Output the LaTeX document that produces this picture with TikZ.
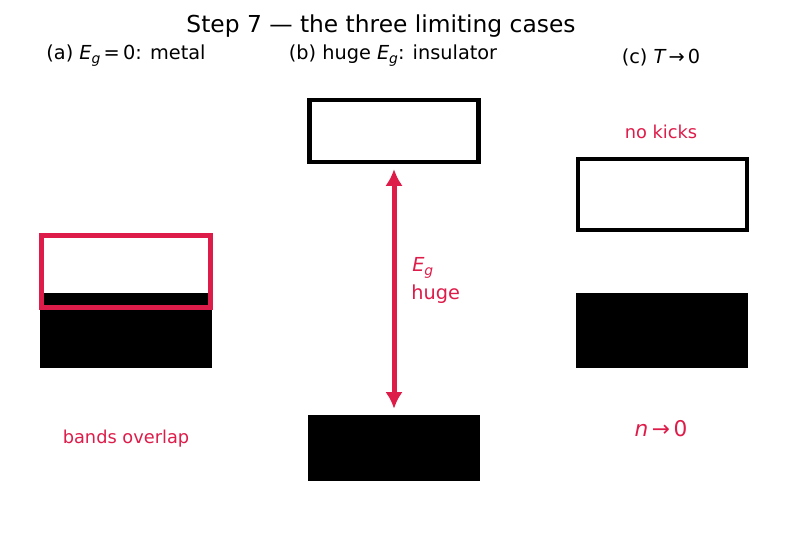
\documentclass[tikz,border=0pt]{standalone}
\usepackage{fontspec}
\usetikzlibrary{arrows.meta}
\setmainfont{DejaVu Sans}
\newfontfamily\obl{DejaVu Sans Oblique}
\definecolor{crim}{RGB}{222,28,74}
\newcommand{\subg}[1]{\raisebox{-0.35ex}{\fontsize{#1}{#1}\selectfont\obl g}}
\begin{document}
\begin{tikzpicture}[x=0.72pt,y=-0.72pt,
  lab/.style={inner sep=0pt,anchor=center},
  outl/.style={draw=black,line width=4.3*0.72pt},
  blk/.style={fill=black,draw=none},
  gaparrow/.style={{Latex[length=12pt,width=12.5pt]}-{Latex[length=12pt,width=12.5pt]}}]
\useasboundingbox (0,0) rectangle (787,539);
% title
\node[lab,font=\fontsize{16.8}{20}\selectfont] (title) at (381,26) {Step 7 — the three limiting cases};
\node[lab,font=\fontsize{13.9}{16}\selectfont] (la) at (126,55.5) {(a) {\obl E}\subg{10}\,=\,0: metal};
\node[lab,font=\fontsize{13.9}{16}\selectfont] (lb) at (393,55.5) {(b) huge {\obl E}\subg{10}: insulator};
\node[lab,font=\fontsize{13.9}{16}\selectfont] (lc) at (661,57) {(c) {\obl T}\,→\,0};
% panel a
\fill[black] (40,293) rectangle (212,368);
\draw[crim,line width=5*0.72pt] (41.5,235.5) rectangle (210.5,307.5);
\node[lab,text=crim,font=\fontsize{12.8}{15}\selectfont] (bo) at (126,439) {bands overlap};
% panel b
\node[outl,minimum width=169*0.72pt,minimum height=62*0.72pt,inner sep=0pt] (cb) at (394,131) {};
\node[blk,minimum width=172*0.72pt,minimum height=66*0.72pt,inner sep=0pt] (vb) at (394,448) {};
\draw[crim,line width=5*0.72pt,gaparrow,shorten <=5*0.72pt,shorten >=6*0.72pt] (cb.south) -- (vb.north);
\node[text=crim,font=\fontsize{13.9}{16}\selectfont,anchor=west,inner sep=0pt] (eg) at (412,268) {{\obl E}\subg{10}};
\node[text=crim,font=\fontsize{13.9}{16}\selectfont,anchor=west,inner sep=0pt] (hg) at (411,294) {huge};
% panel c
\node[lab,text=crim,font=\fontsize{12.8}{15}\selectfont] (nk) at (661,132) {no kicks};
\node[outl,minimum width=169*0.72pt,minimum height=71*0.72pt,inner sep=0pt] (cc) at (662.5,194.5) {};
\node[blk,minimum width=172*0.72pt,minimum height=75*0.72pt,inner sep=0pt] (vc) at (662,330.5) {};
\node[lab,text=crim,font=\fontsize{15.6}{18}\selectfont] (n0) at (661,429) {{\obl n}\,→\,0};
\end{tikzpicture}
\end{document}
